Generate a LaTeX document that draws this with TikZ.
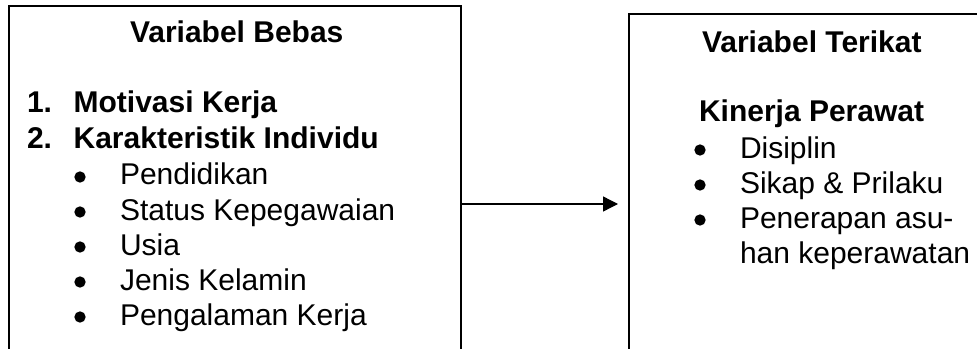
\documentclass[tikz,border=0pt]{standalone}
\usepackage{fontspec}
\setmainfont{Liberation Sans}
\usetikzlibrary{arrows.meta}
\begin{document}
\begin{tikzpicture}[x=0.75pt,y=-0.75pt,
  txt/.style={inner sep=0pt,outer sep=0pt,anchor=base west,font=\fontsize{22.5pt}{26pt}\selectfont},
  hd/.style={txt,font=\fontsize{22.5pt}{26pt}\selectfont\bfseries},
  dot/.style={circle,fill=black,draw=none,inner sep=0pt,minimum size=8.5pt},
  boxL/.style={draw,line width=1.5pt,inner sep=0pt,outer sep=0pt,anchor=north west},
  boxR/.style={draw,line width=1pt,inner sep=0pt,outer sep=0pt,anchor=north west},
  conn/.style={line width=1pt,-{Triangle[length=11.25pt,width=11.25pt]}}]
\useasboundingbox (0,0) rectangle (977,349);
\clip (0,0) rectangle (977,349);
% boxes (cut off at the bottom)
\node[boxL,minimum width=339pt,minimum height=297pt] (L) at (9,6) {};
\node[boxR,minimum width=285pt,minimum height=300pt] (R) at (629,14) {};
% left box text
\node[hd] (lh) at (130,43) {Variabel Bebas};
\node[hd] (l1) at (27,113) {\makebox[35pt][l]{1.}Motivasi Kerja};
\node[hd] (l2) at (27,148) {\makebox[35pt][l]{2.}Karakteristik Individu};
\node[dot] (d1) at (80,177) {};
\node[txt] (b1) at (120,185) {Pendidikan};
\node[dot] (d2) at (80,212) {};
\node[txt] (b2) at (120,220) {Status Kepegawaian};
\node[dot] (d3) at (80,247) {};
\node[txt] (b3) at (120,255) {Usia};
\node[dot] (d4) at (80,282) {};
\node[txt] (b4) at (120,290) {Jenis Kelamin};
\node[dot] (d5) at (80,317) {};
\node[txt] (b5) at (120,325) {Pengalaman Kerja};
% right box text
\node[hd] (rh) at (702,53) {Variabel Terikat};
\node[hd] (rk) at (699,122) {Kinerja Perawat};
\node[dot] (e1) at (700,150) {};
\node[txt] (r1) at (740,158) {Disiplin};
\node[dot] (e2) at (700,185) {};
\node[txt] (r2) at (740,193) {Sikap \& Prilaku};
\node[dot] (e3) at (700,220) {};
\node[txt] (r3) at (740,228) {Penerapan asu-};
\node[txt] (r4) at (740,263) {han keperawatan};
% connector
\draw[conn,shorten >=8.25pt] (L.east) -- (L.east -| R.west);
\end{tikzpicture}
\end{document}
